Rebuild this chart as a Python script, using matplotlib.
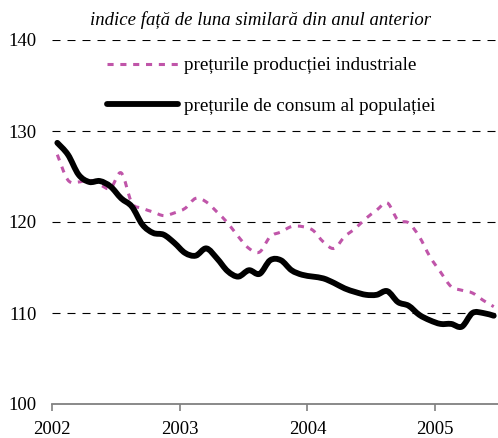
import numpy as np
import matplotlib
matplotlib.use("Agg")
import matplotlib.pyplot as plt
from matplotlib.path import Path
from matplotlib.patches import PathPatch
from matplotlib.lines import Line2D

plt.rcParams['font.family'] = ['Liberation Serif', 'DejaVu Serif']

# monthly data Jan 2002 .. Jun 2005
ppi = [127.4, 124.6, 124.4, 124.6, 124.1, 123.7, 125.4, 122.1, 121.5, 121.1, 120.7, 121.0,
       121.5, 122.6, 122.2, 121.1, 119.9, 118.4, 117.1, 116.7, 118.4, 118.9, 119.5, 119.5,
       119.1, 117.8, 117.1, 118.4, 119.3, 120.4, 121.3, 122.1, 120.2, 119.9, 118.4, 116.2,
       114.5, 112.9, 112.5, 112.2, 111.4, 110.7]
cpi = [128.7, 127.4, 125.2, 124.4, 124.5, 123.9, 122.6, 121.7, 119.7, 118.8, 118.6, 117.7,
       116.6, 116.3, 117.1, 116.0, 114.6, 114.0, 114.7, 114.3, 115.8, 115.8, 114.7, 114.2,
       114.0, 113.8, 113.3, 112.7, 112.3, 112.0, 112.0, 112.4, 111.2, 110.8, 109.8, 109.2,
       108.8, 108.8, 108.5, 110.0, 110.0, 109.7]
years = ['2002', '2003', '2004', '2005']
yticks = [100, 110, 120, 130, 140]
labels = ['prețurile producției industriale', 'prețurile de consum al populației']
title = 'indice față de luna similară din anul anterior'

magenta = '#C055A9'
ppi_dash = (0, (2.0, 2.2))


def smooth_path(x, y):
    pts = np.column_stack([x, y])
    n = len(pts)
    verts = [pts[0]]
    codes = [Path.MOVETO]
    for i in range(n - 1):
        p0 = pts[max(i - 1, 0)]
        p1 = pts[i]
        p2 = pts[i + 1]
        p3 = pts[min(i + 2, n - 1)]
        c1 = p1 + (p2 - p0) / 6.0
        c2 = p2 - (p3 - p1) / 6.0
        verts += [c1, c2, p2]
        codes += [Path.CURVE4] * 3
    return Path(verts, codes)


fig = plt.figure(figsize=(4.98, 4.38), dpi=100)
ax = fig.add_axes([52 / 498, 1 - 404 / 438, 446 / 498, 364 / 438])

x = np.arange(len(cpi)) + 0.5
ax.add_patch(PathPatch(smooth_path(x, ppi), fill=False, edgecolor=magenta, lw=2.2,
                       linestyle=ppi_dash, capstyle='butt', zorder=3))
ax.add_patch(PathPatch(smooth_path(x, cpi), fill=False, edgecolor='black', lw=4.2,
                       capstyle='round', joinstyle='round', zorder=4))

ax.set_xlim(0, 41.9)
ax.set_ylim(100, 140)
ax.set_yticks(yticks)
ax.set_xticks([0, 12, 24, 36])
ax.set_xticklabels(years)
for v in yticks[1:]:
    ax.axhline(v, color='black', lw=0.8, linestyle=(0, (7.2, 6.3)), zorder=1)

for s in ['top', 'right', 'left']:
    ax.spines[s].set_visible(False)
ax.spines['bottom'].set_color('#808080')
ax.spines['bottom'].set_linewidth(1.3)
ax.tick_params(axis='y', length=0, pad=11, labelsize=13.5)
ax.tick_params(axis='x', length=5, width=1.2, color='#808080', direction='out', pad=7,
               labelsize=13.5)

fig.text(260 / 498, 1 - 20 / 438, title, ha='center', va='center', style='italic',
         fontsize=13.5)

handles = [Line2D([], [], color=magenta, lw=2.2, linestyle=ppi_dash),
           Line2D([], [], color='black', lw=4.2, solid_capstyle='round')]
fig.legend(handles, labels, loc='upper left', bbox_to_anchor=(107 / 498, 1 - 57 / 438),
           frameon=False, fontsize=13.8, handlelength=3.7, handletextpad=0.3,
           labelspacing=1.2, borderaxespad=0, borderpad=0)

fig.savefig('out.png', dpi=100)
